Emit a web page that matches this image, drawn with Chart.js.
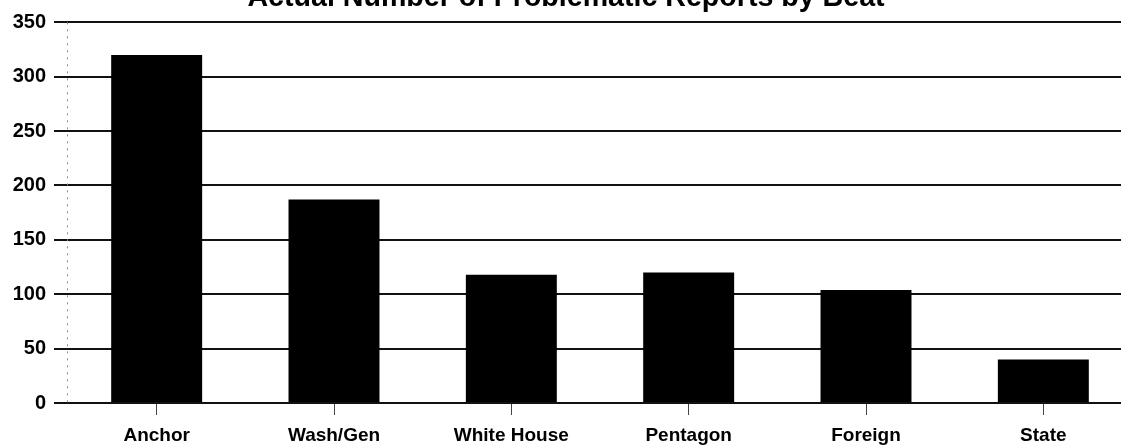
<!DOCTYPE html>
<html>
<head>
<meta charset="utf-8">
<title>Actual Number of Problematic Reports by Beat</title>
<script src="https://cdn.jsdelivr.net/npm/chart.js@4/dist/chart.umd.min.js"></script>
<style>
  html, body { margin: 0; padding: 0; background: #fff; overflow: hidden; width: 1121px; height: 447px; }
  #wrap { position: absolute; left: 0; top: -19px; width: 1132px; height: 466px; }
  canvas { display: block; }
</style>
</head>
<body>
<div id="wrap"><canvas id="chart" width="1132" height="466"></canvas></div>
<script>
// Beats and the number of problematic reports filed for each
const beats = ['Anchor', 'Wash/Gen', 'White House', 'Pentagon', 'Foreign', 'State'];
const reports = [320, 187, 118, 120, 104, 40];

// Value axis settings
const yMin = 0;
const yMax = 350;
const yStep = 50;

const FONT = '"Liberation Sans", Arial, Helvetica, sans-serif';

// Faint dotted vertical axis line at the left edge of the plot area
const dottedAxis = {
  id: 'dottedAxis',
  afterDatasetsDraw(chart) {
    const { ctx, chartArea } = chart;
    ctx.save();
    ctx.strokeStyle = '#8a8a8a';
    ctx.lineWidth = 1;
    ctx.setLineDash([2, 5]);
    ctx.beginPath();
    ctx.moveTo(chartArea.left - 0.5, chartArea.top);
    ctx.lineTo(chartArea.left - 0.5, chartArea.bottom);
    ctx.stroke();
    ctx.restore();
  }
};

new Chart(document.getElementById('chart'), {
  type: 'bar',
  data: {
    labels: beats,
    datasets: [{
      label: 'Reports',
      data: reports,
      backgroundColor: '#000',
      borderWidth: 0,
      barPercentage: 0.513,
      categoryPercentage: 1.0
    }]
  },
  plugins: [dottedAxis],
  options: {
    responsive: false,
    animation: false,
    devicePixelRatio: 1,
    layout: { padding: { left: 0, right: 0, top: 0, bottom: 0 } },
    plugins: {
      legend: { display: false },
      tooltip: { enabled: false },
      title: {
        display: true,
        text: 'Actual Number of Problematic Reports by Beat',
        color: '#000',
        font: { family: FONT, size: 28.6, weight: 'bold' },
        padding: { top: 0, bottom: 7 }
      }
    },
    scales: {
      x: {
        offset: true,
        grid: {
          display: true,
          offset: false,
          drawOnChartArea: false,
          drawTicks: true,
          tickLength: 12,
          color: '#444',
          lineWidth: 1
        },
        border: { display: false },
        ticks: {
          color: '#000',
          padding: 9,
          maxRotation: 0,
          autoSkip: false,
          font: { family: FONT, size: 19, weight: 'bold' }
        },
        afterFit: (scale) => { scale.height = 44; }
      },
      y: {
        min: yMin,
        max: yMax,
        grid: {
          color: '#111',
          lineWidth: 2,
          drawTicks: true,
          tickLength: 14
        },
        border: { display: false },
        ticks: {
          stepSize: yStep,
          color: '#000',
          padding: 8,
          font: { family: FONT, size: 20, weight: 'bold' }
        },
        afterFit: (scale) => { scale.width = 68; }
      }
    }
  }
});
</script>
</body>
</html>
